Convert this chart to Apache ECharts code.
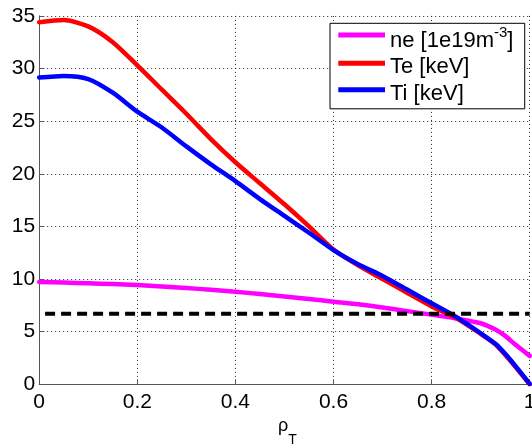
<!DOCTYPE html>
<html>
<head>
<meta charset="utf-8">
<script src="https://cdn.jsdelivr.net/npm/echarts@6/dist/echarts.min.js"></script>
<style>
html,body{margin:0;padding:0;background:#fff;}
#chart{width:532px;height:448px;}
</style>
</head>
<body>
<div id="chart"></div>
<script>
const rho = [0, 0.05, 0.1, 0.15, 0.2, 0.25, 0.3, 0.35, 0.4, 0.45, 0.5, 0.55, 0.6, 0.65, 0.7, 0.75, 0.8, 0.85, 0.9, 0.93, 0.95, 0.97, 1.0];
const neVals = [9.72, 9.66, 9.6, 9.52, 9.43, 9.3, 9.15, 8.98, 8.8, 8.57, 8.35, 8.1, 7.85, 7.6, 7.3, 6.95, 6.62, 6.25, 5.8, 5.2, 4.6, 3.8, 2.7];
const teVals = [34.4, 34.6, 34.0, 32.5, 30.3, 28.0, 25.7, 23.3, 21.1, 19.1, 17.1, 15.0, 12.8, 11.3, 10.0, 8.7, 7.4, 6.3, 4.8, 3.8, 2.8, 1.7, 0.0];
const tiVals = [29.15, 29.3, 29.0, 27.7, 25.9, 24.4, 22.6, 20.9, 19.3, 17.6, 16.0, 14.4, 12.75, 11.4, 10.3, 9.0, 7.7, 6.4, 4.85, 3.85, 2.9, 1.8, 0.05];
const refX = [0.012, 1];
const refVals = [6.7, 6.7];
const yTicks = [0, 5, 10, 15, 20, 25, 30, 35];
const xTicks = [0, 0.2, 0.4, 0.6, 0.8, 1];
const seriesNames = ['ne', 'Te [keV]', 'Ti [keV]'];
const seriesColors = ['#ff00ff', '#ff0000', '#0000ff'];

function pairs(xs, ys) { return xs.map((x, i) => [x, ys[i]]); }

const FONT = "'Liberation Sans', Arial, sans-serif";
const chart = echarts.init(document.getElementById('chart'), null, {renderer: 'canvas'});

const lineSeries = [neVals, teVals, tiVals].map((vals, i) => ({
  name: seriesNames[i],
  type: 'line',
  data: pairs(rho, vals),
  showSymbol: false,
  smooth: 0.25,
  color: seriesColors[i],
  lineStyle: {width: 4.5, color: seriesColors[i], cap: 'round', join: 'round'},
  z: 2 + i
}));

lineSeries.push({
  name: 'ref',
  type: 'line',
  data: pairs(refX, refVals),
  showSymbol: false,
  lineStyle: {width: 4, color: '#000', type: [10, 6]},
  z: 10
});

const option = {
  animation: false,
  backgroundColor: '#fff',
  textStyle: {fontFamily: FONT},
  grid: {left: 39.2, right: 2.3, top: 15.9, bottom: 63.7, containLabel: false, outerBoundsMode: 'none'},
  xAxis: {
    type: 'value',
    min: xTicks[0], max: xTicks[xTicks.length - 1], interval: 0.2,
    name: '{r|ρ}{t|T}',
    nameLocation: 'middle',
    nameGap: 32.4,
    nameMoveOverlap: false,
    nameTextStyle: {
      fontFamily: FONT, color: '#000',
      rich: {
        r: {fontSize: 18, height: 18, verticalAlign: 'top', padding: [0, 0, 0, 6], fontFamily: FONT, color: '#000'},
        t: {fontSize: 14, height: 14, verticalAlign: 'top', padding: [16, 0, 0, 0], fontFamily: FONT, color: '#000'}
      }
    },
    axisLine: {show: true, onZero: false, lineStyle: {color: '#555', width: 1}},
    axisTick: {show: true, inside: true, length: 5, lineStyle: {color: '#555'}},
    axisLabel: {fontSize: 21, color: '#000', margin: 7, fontFamily: FONT, showMinLabel: true, showMaxLabel: true},
    splitLine: {show: true, lineStyle: {color: '#222', type: [1, 3], width: 1}}
  },
  yAxis: {
    type: 'value',
    min: yTicks[0], max: yTicks[yTicks.length - 1], interval: 5,
    axisLine: {show: true, lineStyle: {color: '#555', width: 1}},
    axisTick: {show: true, inside: true, length: 5, lineStyle: {color: '#555'}},
    axisLabel: {fontSize: 21, color: '#000', margin: 4, fontFamily: FONT},
    splitLine: {show: true, lineStyle: {color: '#222', type: [1, 3], width: 1}}
  },
  legend: {
    data: seriesNames,
    orient: 'vertical',
    left: 330, top: 23.3,
    padding: [1.7, 11.3, 4, 8.3],
    itemGap: 4.5,
    itemWidth: 46.7, itemHeight: 5,
    icon: 'rect',
    selectedMode: false,
    backgroundColor: '#fff',
    borderColor: '#000',
    borderWidth: 1,
    borderRadius: 0,
    formatter: function (name) {
      if (name === 'ne') return '{a|ne [1e19m}{s|-3}{a|]}';
      return '{b|' + name + '}';
    },
    textStyle: {
      fontFamily: FONT, fontSize: 22, color: '#000',
      rich: {
        a: {fontSize: 22, height: 16, verticalAlign: 'top', padding: [15.3, 0, 3.7, 0], fontFamily: FONT, color: '#000'},
        s: {fontSize: 15, height: 15, verticalAlign: 'top', padding: [7.5, 0, 0, 0], fontFamily: FONT, color: '#000'},
        b: {fontSize: 22, height: 16, verticalAlign: 'top', padding: [8, 0, 0, 0], fontFamily: FONT, color: '#000'}
      }
    }
  },
  series: lineSeries
};
chart.setOption(option);
</script>
</body>
</html>
